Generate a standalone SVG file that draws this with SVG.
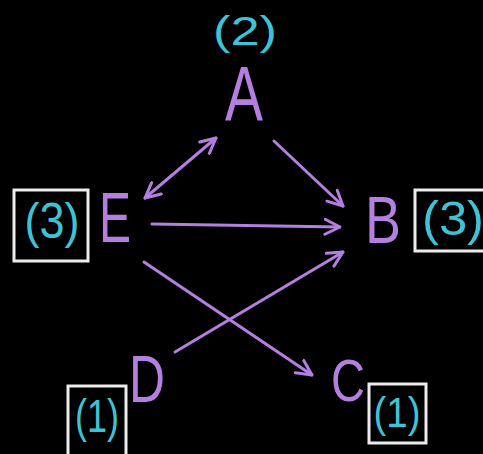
<svg xmlns="http://www.w3.org/2000/svg" width="483" height="454" viewBox="0 0 483 454">
<style>
.node{fill:#b47fe0;font-family:"Liberation Sans",Arial,sans-serif;font-weight:300}
.num{fill:#3ec3d6;font-family:"Liberation Sans",Arial,sans-serif}
.box{fill:none;stroke:#ececec;stroke-width:3}
.edge{stroke:#b47fe0;stroke-width:3;fill:none;stroke-linecap:round}
</style>
<defs>
<marker id="ah" viewBox="0 0 12 12" refX="11" refY="6" markerWidth="6" markerHeight="6" orient="auto-start-reverse" markerUnits="strokeWidth">
<path d="M1,1 L11,6 L1,11" fill="none" stroke="#b47fe0" stroke-width="2" stroke-linecap="round" stroke-linejoin="round"/>
</marker>
</defs>
<rect width="483" height="454" fill="#000"/>
<g id="connectors">
<line class="edge" x1="145" y1="198" x2="216" y2="138" marker-start="url(#ah)" marker-end="url(#ah)"/>
<line class="edge" x1="274" y1="141" x2="343" y2="206" marker-end="url(#ah)"/>
<line class="edge" x1="152" y1="224" x2="340" y2="227" marker-end="url(#ah)"/>
<line class="edge" x1="144" y1="262" x2="312" y2="375" marker-end="url(#ah)"/>
<line class="edge" x1="175" y1="352" x2="343" y2="252" marker-end="url(#ah)"/>
</g>
<g id="node-A">
<text class="num" x="245" y="45" font-size="40" text-anchor="middle" textLength="64" lengthAdjust="spacingAndGlyphs">(2)</text>
<text class="node" x="244" y="121" font-size="78" text-anchor="middle" textLength="38" lengthAdjust="spacingAndGlyphs">A</text>
</g>
<g id="node-E">
<rect class="box" x="14" y="190" width="74" height="71"/>
<text class="num" x="52" y="238" font-size="50" text-anchor="middle" textLength="55" lengthAdjust="spacingAndGlyphs">(3)</text>
<text class="node" x="115" y="242" font-size="70" text-anchor="middle" textLength="32" lengthAdjust="spacingAndGlyphs">E</text>
</g>
<g id="node-B">
<rect class="box" x="415" y="190" width="80" height="61"/>
<text class="num" x="453" y="235" font-size="48" text-anchor="middle" textLength="62" lengthAdjust="spacingAndGlyphs">(3)</text>
<text class="node" x="383" y="243" font-size="66" text-anchor="middle" textLength="36" lengthAdjust="spacingAndGlyphs">B</text>
</g>
<g id="node-D">
<rect class="box" x="68" y="386" width="58" height="72"/>
<text class="num" x="97" y="432" font-size="46" text-anchor="middle" textLength="44" lengthAdjust="spacingAndGlyphs">(1)</text>
<text class="node" x="147" y="402" font-size="66" text-anchor="middle" textLength="36" lengthAdjust="spacingAndGlyphs">D</text>
</g>
<g id="node-C">
<rect class="box" x="369" y="384" width="57" height="59"/>
<text class="num" x="397" y="427" font-size="42" text-anchor="middle" textLength="47" lengthAdjust="spacingAndGlyphs">(1)</text>
<text class="node" x="348" y="401" font-size="60" text-anchor="middle" textLength="34" lengthAdjust="spacingAndGlyphs">C</text>
</g>
</svg>
